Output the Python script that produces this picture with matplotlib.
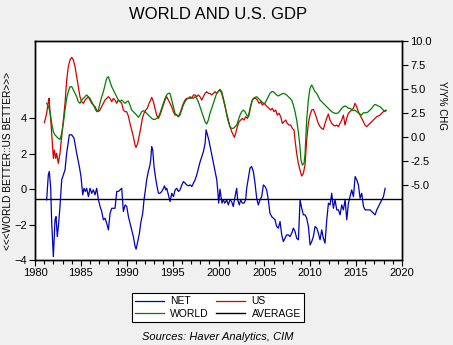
import numpy as np
import matplotlib
matplotlib.use("Agg")
import matplotlib.pyplot as plt
from matplotlib.ticker import MultipleLocator, FormatStrFormatter

plt.rcParams['font.family'] = ['Liberation Sans', 'DejaVu Sans']

# NET = US minus WORLD (left axis)
net_years = [1981.27, 1981.45, 1981.56, 1981.71, 1981.82, 1982.00, 1982.18, 1982.29, 1982.43, 1982.58,
             1982.72, 1982.91, 1983.27, 1983.45, 1983.74, 1984.00, 1984.25, 1984.54, 1984.83, 1985.01,
             1985.20, 1985.34, 1985.49, 1985.63, 1985.82, 1986.00, 1986.18, 1986.36, 1986.54, 1986.72,
             1986.91, 1987.09, 1987.27, 1987.45, 1987.63, 1987.81, 1988.00, 1988.18, 1988.36, 1988.54,
             1988.72, 1988.91, 1989.09, 1989.27, 1989.45, 1989.63, 1989.82, 1990.00, 1990.18, 1990.36,
             1990.54, 1990.72, 1990.91, 1991.02, 1991.16, 1991.38, 1991.52, 1991.74, 1991.88, 1992.03,
             1992.17, 1992.35, 1992.53, 1992.61, 1992.72, 1992.83, 1992.97, 1993.12, 1993.27, 1993.45,
             1993.63, 1993.81, 1994.00, 1994.11, 1994.25, 1994.36, 1994.54, 1994.72, 1994.91, 1995.09,
             1995.27, 1995.45, 1995.63, 1995.81, 1996.00, 1996.18, 1996.36, 1996.54, 1996.72, 1996.91,
             1997.09, 1997.27, 1997.45, 1997.63, 1997.81, 1998.00, 1998.18, 1998.36, 1998.54, 1998.65,
             1998.80, 1998.94, 1999.09, 1999.27, 1999.45, 1999.63, 1999.81, 1999.91, 2000.02, 2000.16,
             2000.27, 2000.38, 2000.52, 2000.70, 2000.89, 2001.07, 2001.25, 2001.43, 2001.61, 2001.80,
             2001.98, 2002.09, 2002.27, 2002.41, 2002.60, 2002.78, 2002.96, 2003.07, 2003.25, 2003.43,
             2003.61, 2003.80, 2003.98, 2004.16, 2004.34, 2004.52, 2004.71, 2004.89, 2005.07, 2005.25,
             2005.43, 2005.61, 2005.80, 2005.98, 2006.16, 2006.34, 2006.52, 2006.71, 2006.89, 2007.07,
             2007.25, 2007.43, 2007.61, 2007.80, 2007.98, 2008.16, 2008.34, 2008.52, 2008.71, 2008.89,
             2009.07, 2009.25, 2009.43, 2009.61, 2009.80, 2009.98, 2010.16, 2010.34, 2010.52, 2010.71,
             2010.89, 2011.07, 2011.25, 2011.43, 2011.61, 2011.80, 2011.98, 2012.16, 2012.34, 2012.52,
             2012.70, 2012.89, 2013.07, 2013.25, 2013.43, 2013.61, 2013.80, 2013.98, 2014.16, 2014.34,
             2014.52, 2014.71, 2014.89, 2015.07, 2015.25, 2015.43, 2015.61, 2015.80, 2015.98, 2016.16,
             2016.34, 2016.52, 2016.70, 2016.89, 2017.07, 2017.25, 2017.43, 2017.61, 2017.80, 2017.98,
             2018.16]
net_vals = [-0.60, 0.81, 1.00, 0.05, -1.92, -3.81, -1.73, -1.55, -2.68, -1.92,
            -0.98, 0.53, 1.09, 2.03, 3.07, 3.07, 2.88, 2.03, 1.28, 0.71,
            -0.32, 0.05, -0.13, 0.05, -0.42, 0.05, -0.23, -0.04, -0.32, 0.05,
            -0.60, -0.98, -1.26, -1.73, -1.64, -1.92, -2.30, -1.36, -1.08, -1.08,
            -1.08, -0.13, -0.13, -0.04, 0.05, -1.26, -0.89, -0.98, -1.55, -1.92,
            -2.30, -2.68, -3.24, -3.39, -3.05, -2.49, -1.92, -1.36, -0.60, -0.04,
            0.53, 1.00, 1.37, 1.66, 2.41, 2.22, 1.28, 0.71, 0.24, -0.23,
            -0.23, -0.13, 0.05, 0.19, -0.04, 0.05, -0.32, -0.70, -0.23, -0.42,
            -0.04, 0.05, -0.13, -0.04, 0.24, 0.43, 0.34, 0.24, 0.19, 0.24,
            0.15, 0.34, 0.53, 0.81, 1.18, 1.56, 1.84, 2.13, 2.60, 3.35,
            3.07, 2.79, 2.41, 1.94, 1.47, 1.00, 0.53, -0.04, -0.79, 0.00,
            -0.42, -0.79, -0.60, -0.79, -0.60, -0.89, -0.60, -0.70, -0.98, -0.42,
            0.05, -0.60, -0.89, -0.60, -0.79, -0.79, -0.60, 0.05, 0.62, 1.18,
            1.28, 0.99, 0.34, -0.51, -0.89, -0.60, -0.42, 0.24, 0.15, -0.04,
            -0.60, -1.36, -1.55, -1.64, -1.73, -2.11, -2.20, -1.83, -2.58, -2.96,
            -2.77, -2.58, -2.58, -2.68, -2.49, -2.20, -2.39, -2.77, -2.86, -0.60,
            -1.08, -1.45, -1.45, -1.64, -2.11, -3.15, -2.96, -2.68, -2.11, -2.20,
            -2.49, -2.86, -2.30, -2.77, -3.05, -1.73, -0.79, -0.89, -0.23, -1.08,
            -0.60, -1.17, -1.17, -1.45, -0.89, -1.17, -0.60, -1.73, -0.79, -0.42,
            -0.04, -0.42, 0.71, 0.53, 0.24, -0.51, -0.23, -0.98, -1.17, -1.17,
            -1.17, -1.17, -1.26, -1.36, -1.45, -1.17, -0.98, -0.79, -0.60, -0.42,
            0.05]
net_avg = -0.55

# US real GDP, y/y % (right axis)
us_years = [1981.02, 1981.27, 1981.45, 1981.53, 1981.63, 1981.82, 1982.00, 1982.11, 1982.25, 1982.36,
            1982.54, 1982.72, 1982.91, 1983.09, 1983.27, 1983.45, 1983.63, 1983.81, 1984.00, 1984.18,
            1984.36, 1984.54, 1984.72, 1984.90, 1985.09, 1985.27, 1985.45, 1985.63, 1985.81, 1985.99,
            1986.18, 1986.36, 1986.54, 1986.72, 1986.90, 1987.08, 1987.27, 1987.45, 1987.63, 1987.81,
            1987.99, 1988.17, 1988.36, 1988.54, 1988.72, 1988.90, 1989.08, 1989.26, 1989.45, 1989.63,
            1989.81, 1989.99, 1990.17, 1990.35, 1990.54, 1990.72, 1990.90, 1991.01, 1991.19, 1991.34,
            1991.55, 1991.70, 1991.88, 1992.06, 1992.24, 1992.43, 1992.61, 1992.72, 1992.90, 1993.08,
            1993.26, 1993.44, 1993.62, 1993.81, 1993.99, 1994.17, 1994.35, 1994.53, 1994.71, 1994.90,
            1995.08, 1995.26, 1995.44, 1995.62, 1995.80, 1995.99, 1996.17, 1996.35, 1996.53, 1996.71,
            1996.89, 1997.08, 1997.26, 1997.44, 1997.62, 1997.80, 1997.98, 1998.17, 1998.35, 1998.53,
            1998.71, 1998.89, 1999.07, 1999.26, 1999.44, 1999.62, 1999.80, 2000.00, 2000.16, 2000.35,
            2000.53, 2000.71, 2000.89, 2001.07, 2001.25, 2001.44, 2001.62, 2001.73, 2001.87, 2002.05,
            2002.24, 2002.42, 2002.60, 2002.78, 2002.96, 2003.14, 2003.33, 2003.51, 2003.69, 2003.87,
            2004.05, 2004.23, 2004.42, 2004.60, 2004.78, 2004.96, 2005.14, 2005.32, 2005.51, 2005.69,
            2005.87, 2006.05, 2006.23, 2006.41, 2006.60, 2006.78, 2006.96, 2007.14, 2007.32, 2007.50,
            2007.69, 2007.87, 2008.05, 2008.23, 2008.34, 2008.52, 2008.70, 2008.88, 2009.07, 2009.25,
            2009.43, 2009.61, 2009.79, 2009.97, 2010.16, 2010.34, 2010.52, 2010.70, 2010.88, 2011.07,
            2011.25, 2011.43, 2011.61, 2011.79, 2011.97, 2012.15, 2012.34, 2012.52, 2012.70, 2012.88,
            2013.06, 2013.24, 2013.43, 2013.61, 2013.79, 2013.97, 2014.15, 2014.33, 2014.52, 2014.70,
            2014.88, 2015.06, 2015.24, 2015.42, 2015.61, 2015.79, 2015.97, 2016.15, 2016.33, 2016.51,
            2016.70, 2016.88, 2017.06, 2017.24, 2017.42, 2017.60, 2017.78, 2017.97, 2018.15, 2018.26]
us_vals = [1.49, 2.47, 3.68, 4.03, 2.81, 0.38, -2.22, -1.35, -2.22, -1.70,
           -2.74, -1.70, 0.03, 1.77, 3.51, 5.94, 7.33, 8.02, 8.30, 8.02,
           7.33, 6.28, 5.24, 4.20, 3.68, 3.51, 3.85, 4.03, 4.20, 3.85,
           3.51, 3.33, 3.16, 2.81, 2.64, 2.81, 3.16, 3.51, 3.85, 4.03,
           4.20, 4.03, 3.68, 4.03, 3.85, 3.51, 3.85, 3.68, 3.51, 2.81,
           2.64, 2.64, 2.20, 1.42, 0.73, 0.03, -0.83, -1.08, -0.66, 0.03,
           1.08, 1.94, 2.47, 2.81, 2.99, 3.51, 3.85, 4.13, 3.68, 2.99,
           2.29, 1.94, 2.29, 2.81, 3.33, 3.85, 4.20, 3.85, 3.51, 3.16,
           2.64, 2.29, 2.29, 2.12, 2.47, 2.99, 3.51, 3.85, 4.03, 4.03,
           4.20, 4.03, 4.38, 4.38, 4.20, 4.38, 4.20, 3.85, 4.20, 4.55,
           4.72, 4.55, 4.55, 4.38, 4.55, 4.72, 4.55, 4.80, 4.90, 4.55,
           3.85, 3.16, 2.47, 1.77, 1.08, 0.56, 0.21, -0.03, 0.38, 1.08,
           1.60, 1.77, 1.94, 1.77, 2.12, 1.94, 2.29, 3.16, 3.85, 4.03,
           4.03, 3.85, 3.51, 3.68, 3.33, 3.51, 3.33, 3.16, 2.99, 2.81,
           2.99, 2.64, 2.81, 2.29, 2.47, 2.12, 1.42, 1.60, 1.77, 1.42,
           1.25, 1.25, 0.90, 0.73, -0.31, -1.70, -2.74, -3.44, -4.06, -3.78,
           -2.90, -0.31, 1.42, 2.29, 2.81, 2.88, 2.47, 1.94, 1.42, 1.08,
           0.90, 0.80, 1.42, 1.94, 2.40, 1.77, 1.42, 1.25, 1.15, 1.25,
           1.08, 1.42, 1.77, 2.29, 1.25, 1.94, 2.47, 2.64, 2.81, 2.99,
           3.51, 3.16, 2.64, 2.29, 1.94, 1.60, 1.25, 1.08, 1.25, 1.42,
           1.60, 1.77, 1.94, 2.12, 2.19, 2.29, 2.47, 2.64, 2.74, 2.81]

# World real GDP, y/y % (right axis)
world_years = [1981.27, 1981.45, 1981.63, 1981.82, 1982.00, 1982.18, 1982.36, 1982.54, 1982.72, 1982.91,
               1983.09, 1983.27, 1983.45, 1983.63, 1983.81, 1984.00, 1984.18, 1984.36, 1984.54, 1984.72,
               1984.90, 1985.09, 1985.27, 1985.45, 1985.63, 1985.81, 1985.99, 1986.18, 1986.36, 1986.54,
               1986.72, 1986.90, 1987.08, 1987.27, 1987.45, 1987.63, 1987.81, 1987.99, 1988.17, 1988.36,
               1988.54, 1988.72, 1988.90, 1989.08, 1989.26, 1989.45, 1989.63, 1989.81, 1989.99, 1990.17,
               1990.35, 1990.54, 1990.72, 1990.90, 1991.08, 1991.26, 1991.44, 1991.63, 1991.81, 1991.99,
               1992.17, 1992.35, 1992.54, 1992.72, 1992.90, 1993.08, 1993.26, 1993.44, 1993.62, 1993.81,
               1993.99, 1994.17, 1994.35, 1994.53, 1994.71, 1994.90, 1995.08, 1995.26, 1995.44, 1995.62,
               1995.80, 1995.99, 1996.17, 1996.35, 1996.53, 1996.71, 1996.89, 1997.08, 1997.26, 1997.44,
               1997.62, 1997.80, 1997.98, 1998.17, 1998.35, 1998.53, 1998.71, 1998.89, 1999.07, 1999.26,
               1999.44, 1999.62, 1999.80, 1999.98, 2000.16, 2000.35, 2000.53, 2000.71, 2000.89, 2001.07,
               2001.25, 2001.44, 2001.62, 2001.80, 2001.98, 2002.16, 2002.35, 2002.53, 2002.71, 2002.89,
               2003.07, 2003.25, 2003.43, 2003.62, 2003.80, 2003.98, 2004.16, 2004.34, 2004.52, 2004.71,
               2004.89, 2005.07, 2005.25, 2005.43, 2005.61, 2005.80, 2005.98, 2006.16, 2006.34, 2006.52,
               2006.70, 2006.89, 2007.07, 2007.25, 2007.43, 2007.61, 2007.80, 2007.98, 2008.16, 2008.34,
               2008.52, 2008.70, 2008.88, 2008.99, 2009.14, 2009.32, 2009.43, 2009.61, 2009.79, 2009.97,
               2010.16, 2010.34, 2010.52, 2010.70, 2010.88, 2011.07, 2011.25, 2011.43, 2011.61, 2011.79,
               2011.97, 2012.15, 2012.34, 2012.52, 2012.70, 2012.88, 2013.06, 2013.24, 2013.43, 2013.61,
               2013.79, 2013.97, 2014.15, 2014.33, 2014.52, 2014.70, 2014.88, 2015.06, 2015.24, 2015.42,
               2015.61, 2015.79, 2015.97, 2016.15, 2016.33, 2016.51, 2016.70, 2016.88, 2017.06, 2017.24,
               2017.42, 2017.60, 2017.78, 2017.97, 2018.15, 2018.26]
world_vals = [3.50, 3.20, 2.64, 1.42, 0.56, 0.21, 0.03, -0.14, -0.24, 0.38,
              1.42, 2.81, 4.03, 4.72, 5.24, 5.24, 4.90, 4.55, 4.20, 3.68,
              3.51, 3.85, 4.03, 4.20, 4.38, 4.20, 4.03, 3.68, 3.33, 2.99,
              2.64, 2.81, 3.51, 4.20, 4.72, 5.42, 6.11, 6.28, 5.76, 5.24,
              4.90, 4.55, 4.20, 3.85, 3.68, 3.85, 3.68, 3.51, 3.68, 3.75,
              3.33, 2.81, 2.64, 2.47, 2.29, 2.05, 2.29, 2.64, 2.74, 2.64,
              2.47, 2.29, 2.12, 1.94, 1.84, 1.84, 1.94, 2.05, 2.47, 2.99,
              3.51, 4.03, 4.38, 4.55, 4.55, 3.85, 3.16, 2.47, 2.29, 2.12,
              2.29, 2.81, 3.33, 3.68, 3.92, 4.03, 4.03, 4.13, 4.03, 4.20,
              4.03, 3.68, 3.16, 2.64, 2.12, 1.60, 1.35, 1.77, 2.47, 2.99,
              3.51, 4.03, 4.55, 4.72, 4.97, 4.72, 4.03, 3.33, 2.29, 1.60,
              1.08, 0.90, 0.90, 1.08, 1.25, 1.77, 2.29, 2.64, 2.81, 2.64,
              2.29, 2.12, 2.99, 3.68, 4.03, 4.13, 4.20, 4.03, 3.85, 3.68,
              3.51, 3.51, 3.85, 4.20, 4.55, 4.72, 4.72, 4.55, 4.38, 4.27,
              4.38, 4.48, 4.55, 4.48, 4.38, 4.20, 4.03, 3.85, 3.33, 2.64,
              1.77, 0.56, -1.00, -2.40, -2.92, -2.74, -1.80, 1.77, 3.85, 5.07,
              5.42, 5.07, 4.72, 4.55, 4.20, 3.85, 3.68, 3.51, 3.33, 3.16,
              2.99, 2.81, 2.64, 2.53, 2.47, 2.47, 2.53, 2.74, 2.99, 3.16,
              3.23, 3.16, 2.99, 2.99, 2.88, 2.74, 2.81, 2.64, 2.53, 2.40,
              2.29, 2.53, 2.53, 2.53, 2.64, 2.81, 2.99, 3.23, 3.40, 3.33,
              3.23, 3.16, 2.99, 2.81, 2.64, 2.74]

blue = '#0000c0'
red = '#d40000'
green = '#007f00'

fig = plt.figure(figsize=(4.53, 3.45), dpi=100, facecolor='#f0f0f0')
ax = fig.add_axes([0.0773, 0.2464, 0.8101, 0.6348])
ax2 = ax.twinx()

l_net, = ax.plot(net_years, net_vals, color=blue, lw=0.9, label='NET')
l_avg = ax.axhline(net_avg, color='black', lw=1.0, label='AVERAGE')
l_us, = ax2.plot(us_years, us_vals, color=red, lw=0.9, label='US')
l_world, = ax2.plot(world_years, world_vals, color=green, lw=0.9, label='WORLD')

ax.set_xlim(1980, 2020)
ax.set_ylim(-4, 8.37)
ax.set_yticks([-4, -2, 0, 2, 4])
ax2.set_ylim(-12.8, 10)
ax2.set_yticks([-5, -2.5, 0, 2.5, 5, 7.5, 10])
ax2.yaxis.set_major_formatter(FormatStrFormatter('%.1f'))
ax.xaxis.set_major_locator(MultipleLocator(5))
ax.xaxis.set_minor_locator(MultipleLocator(1))

for a in (ax, ax2):
    a.tick_params(direction='out', labelsize=8, length=4, width=0.8, pad=2)
    a.tick_params(which='minor', direction='out', length=3, width=0.8)
    for s in a.spines.values():
        s.set_linewidth(1.0)

fig.text(0.482, 0.958, 'WORLD AND U.S. GDP', ha='center', va='center', fontsize=12)
fig.text(8 / 453, 1 - 161 / 345, '<<<WORLD BETTER::US BETTER>>>', rotation=90,
         ha='center', va='center', fontsize=7.3)
fig.text(442 / 453, 1 - 105 / 345, 'Y/Y% CHG', rotation=270,
         ha='center', va='center', fontsize=7)

leg = fig.legend([l_net, l_world, l_us, l_avg], ['NET', 'WORLD', 'US', 'AVERAGE'],
                 ncol=2, loc='center', bbox_to_anchor=(218 / 453, 1 - 307.5 / 345),
                 fontsize=7.5, fancybox=False, edgecolor='black', framealpha=1,
                 handlelength=2.8, handletextpad=0.6, columnspacing=0.7,
                 borderpad=0.3, labelspacing=0.2)
leg.get_frame().set_linewidth(0.8)

fig.text(218 / 453, 1 - 337 / 345, 'Sources: Haver Analytics, CIM', ha='center', va='center',
         fontsize=8, style='italic')

fig.savefig('out.png', dpi=100, facecolor=fig.get_facecolor())
